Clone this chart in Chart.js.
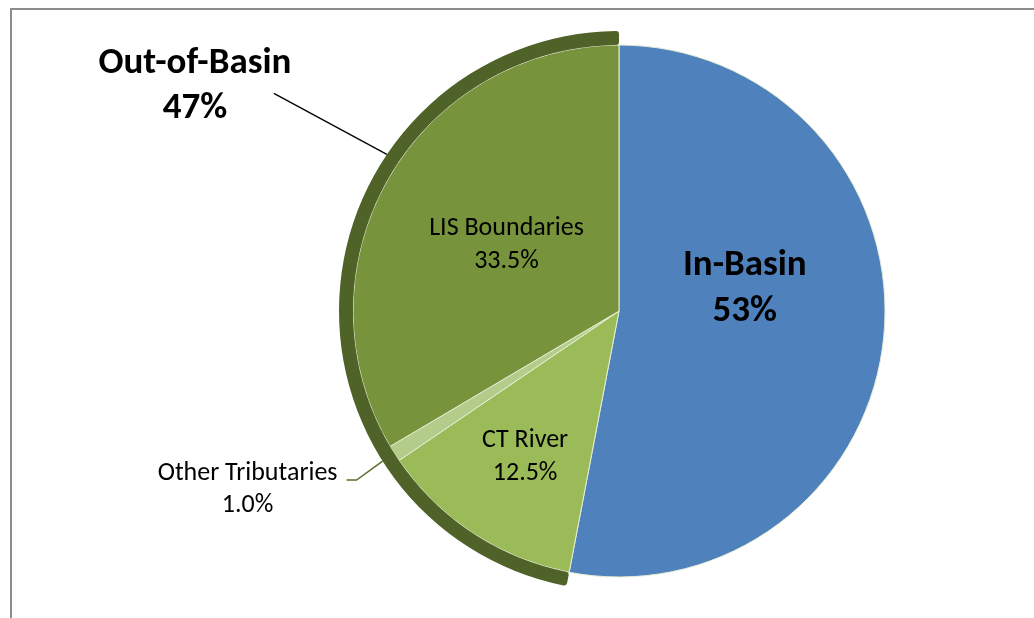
<!DOCTYPE html>
<html>
<head>
<meta charset="utf-8">
<script src="https://cdn.jsdelivr.net/npm/chart.js@4.4.0/dist/chart.umd.min.js"></script>
<style>
    body { margin: 0; background: #fff; }
    #wrap { position: relative; width: 1034px; height: 618px; }
    #frame {
        position: absolute; left: 10px; top: 8px; right: 0; bottom: 0;
        border-top: 2px solid #8c8c8c; border-left: 2px solid #8c8c8c;
    }
    canvas { position: absolute; left: 0; top: 0; }
</style>
</head>
<body>
<div id="wrap">
    <div id="frame"></div>
    <canvas id="myChart" width="1034" height="618"></canvas>
</div>
<script>
// Load sources, clockwise from 12 o'clock
const sourceLabels = ['In-Basin', 'CT River', 'Other Tributaries', 'LIS Boundaries'];
const sourceShares = [53, 12.5, 1.0, 33.5];

// Grouping shown by the outer band
const groupLabels = ['In-Basin', 'Out-of-Basin'];
const groupShares = [53, 47];

const FONT = 'Carlito, Calibri, Lato, sans-serif';

// Where each slice label's first baseline sits: fraction of the radius,
// and a turn (deg) off the slice middle
const insidePlacement = {
    'In-Basin': { f: 0.492, turn: -21.4, bold: true, size: 37, gap: 46, digits: 0 },
    'CT River': { f: 0.62, turn: 1.4, bold: false, size: 26, gap: 33, digits: 1 },
    'LIS Boundaries': { f: 0.51, turn: 4.3, bold: false, size: 26, gap: 33, digits: 1 }
};

function pct(v, digits) {
    return v.toFixed(digits) + '%';
}

// Draws the data labels and the two leader lines
const sliceLabels = {
    id: 'sliceLabels',
    afterDatasetsDraw(chart) {
        const ctx = chart.ctx;
        const inner = chart.getDatasetMeta(1).data;
        const ring = chart.getDatasetMeta(0).data;
        const cx = inner[0].x, cy = inner[0].y;
        const outerR = ring[0].outerRadius;

        ctx.save();
        ctx.textAlign = 'center';
        ctx.textBaseline = 'alphabetic';
        ctx.fillStyle = '#000';

        sourceLabels.forEach((name, i) => {
            const p = insidePlacement[name];
            if (!p) return;
            const arc = inner[i];
            const mid = (arc.startAngle + arc.endAngle) / 2 + p.turn * Math.PI / 180;
            const x = cx + Math.cos(mid) * arc.outerRadius * p.f;
            const y = cy + Math.sin(mid) * arc.outerRadius * p.f;
            ctx.font = (p.bold ? 'bold ' : '') + p.size + 'px ' + FONT;
            ctx.fillText(name, x, y);
            ctx.fillText(pct(sourceShares[i], p.digits), x, y + p.gap);
        });

        // Other Tributaries: elbow leader from the band edge
        const ot = inner[2];
        const otMid = (ot.startAngle + ot.endAngle) / 2;
        const ax = cx + Math.cos(otMid) * outerR;
        const ay = cy + Math.sin(otMid) * outerR;
        ctx.strokeStyle = '#5a6e2c';
        ctx.lineWidth = 1.5;
        ctx.beginPath();
        ctx.moveTo(ax, ay);
        ctx.lineTo(ax - 26, ay + 19);
        ctx.lineTo(ax - 36, ay + 19);
        ctx.stroke();
        ctx.font = '26px ' + FONT;
        ctx.fillText(sourceLabels[2], ax - 135, ay + 19);
        ctx.fillText(pct(sourceShares[2], 1), ax - 135, ay + 51);

        // Out-of-Basin: straight leader from the band
        const ang = (304 - 90) * Math.PI / 180;
        const bx = cx + Math.cos(ang) * outerR;
        const by = cy + Math.sin(ang) * outerR;
        const ex = bx - 113, ey = by - 61;
        ctx.strokeStyle = '#000';
        ctx.lineWidth = 1.3;
        ctx.beginPath();
        ctx.moveTo(bx, by);
        ctx.lineTo(ex, ey);
        ctx.stroke();
        ctx.font = 'bold 37px ' + FONT;
        ctx.fillText(groupLabels[1], ex - 79, ey - 20);
        ctx.fillText(pct(groupShares[1], 0), ex - 79, ey + 25);

        ctx.restore();
    }
};

const ctx = document.getElementById('myChart').getContext('2d');

new Chart(ctx, {
    type: 'pie',
    data: {
        labels: sourceLabels,
        datasets: [
            {
                // outer band marking the out-of-basin share
                label: 'Group',
                data: groupShares,
                backgroundColor: ['rgba(0,0,0,0)', '#4f6228'],
                borderWidth: 0,
                borderRadius: 3,
                weight: 14
            },
            {
                label: 'Source',
                data: sourceShares,
                backgroundColor: ['#4f81bd', '#9bbb59', '#b3cc8a', '#77933c'],
                borderColor: '#e4ecd4',
                borderWidth: 1,
                weight: 266
            }
        ]
    },
    options: {
        responsive: false,
        animation: false,
        radius: 280,
        layout: {
            padding: { left: 339, right: 135, top: 31, bottom: 27 }
        },
        plugins: {
            legend: { display: false },
            tooltip: { enabled: false }
        }
    },
    plugins: [sliceLabels]
});
</script>
</body>
</html>
